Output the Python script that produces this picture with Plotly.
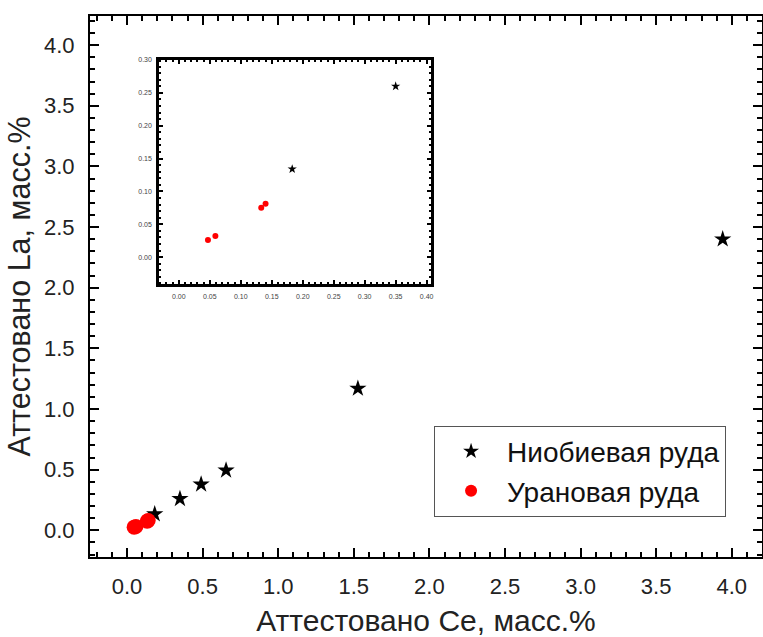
import plotly.graph_objects as go

# Certified Ce vs La content, wt.%
niobium_ce = [0.183, 0.35, 0.49, 0.655, 1.527, 3.94]
niobium_la = [0.134, 0.26, 0.379, 0.494, 1.169, 2.40]
uranium_ce = [0.047, 0.059, 0.133, 0.140]
uranium_la = [0.026, 0.032, 0.075, 0.081]

main_ticks = [0.0, 0.5, 1.0, 1.5, 2.0, 2.5, 3.0, 3.5, 4.0]
inset_xticks = [0.0, 0.05, 0.10, 0.15, 0.20, 0.25, 0.30, 0.35, 0.40]
inset_yticks = [0.0, 0.05, 0.10, 0.15, 0.20, 0.25, 0.30]

FONT = "Liberation Sans, Arial, sans-serif"

fig = go.Figure()

# main panel
fig.add_trace(go.Scatter(
    x=niobium_ce, y=niobium_la, mode="markers", name="Ниобиевая руда",
    marker=dict(symbol="star", size=13, color="black"),
    xaxis="x", yaxis="y"))
fig.add_trace(go.Scatter(
    x=uranium_ce, y=uranium_la, mode="markers", name="Урановая руда",
    marker=dict(symbol="circle", size=15, color="#ff0000"),
    xaxis="x", yaxis="y"))

# inset zoom on the low-concentration region
fig.add_trace(go.Scatter(
    x=niobium_ce, y=niobium_la, mode="markers", showlegend=False,
    marker=dict(symbol="star", size=7, color="black"),
    xaxis="x2", yaxis="y2"))
fig.add_trace(go.Scatter(
    x=uranium_ce, y=uranium_la, mode="markers", showlegend=False,
    marker=dict(symbol="circle", size=6, color="#ff0000"),
    xaxis="x2", yaxis="y2"))

main_axis = dict(
    showgrid=False, zeroline=False, showline=True, linecolor="black",
    linewidth=2, mirror="allticks", ticks="inside", ticklen=9, tickwidth=2,
    tickcolor="black", tickfont=dict(family=FONT, size=22, color="#222"),
    tickformat=".1f", automargin=False,
    minor=dict(ticks="inside", ticklen=5, tickwidth=2, tickcolor="black",
               dtick=0.1, showgrid=False),
)
inset_axis = dict(
    showgrid=False, zeroline=False, showline=True, linecolor="black",
    linewidth=2.5, mirror="allticks", ticks="inside", ticklen=4,
    tickwidth=1.5, tickcolor="black",
    tickfont=dict(family=FONT, size=7, color="#444"),
    tickformat=".2f", automargin=False,
    minor=dict(ticks="inside", ticklen=2.5, tickwidth=1.5,
               tickcolor="black", dtick=0.01, showgrid=False),
)

fig.update_layout(
    width=763, height=637,
    margin=dict(l=90, r=1, t=16, b=80),
    paper_bgcolor="white", plot_bgcolor="white",
    font=dict(family=FONT, color="#222"),
    xaxis=dict(main_axis, range=[-0.245, 4.2], tickvals=main_ticks,
               ticklabelstandoff=9,
               title=dict(text="Аттестовано Ce, масс.%",
                          font=dict(family=FONT, size=30, color="#222"),
                          standoff=21)),
    yaxis=dict(main_axis, range=[-0.22, 4.24], tickvals=main_ticks,
               ticklabelstandoff=9,
               title=dict(text="Аттестовано La, масс.%",
                          font=dict(family=FONT, size=30.5, color="#222"),
                          standoff=4)),
    xaxis2=dict(inset_axis, domain=[0.1027, 0.5074], anchor="y2",
                range=[-0.032, 0.407], tickvals=inset_xticks,
                ticklabelstandoff=4),
    yaxis2=dict(inset_axis, domain=[0.5046, 0.9187], anchor="x2",
                range=[-0.041, 0.30], tickvals=inset_yticks,
                ticklabelstandoff=3),
    legend=dict(x=0.512, y=0.243, xanchor="left", yanchor="top",
                bgcolor="white", bordercolor="#555", borderwidth=1,
                font=dict(family=FONT, size=28, color="#111"),
                itemsizing="constant", itemwidth=62, tracegroupgap=0),
    showlegend=True,
)

fig.write_html("out.html")
